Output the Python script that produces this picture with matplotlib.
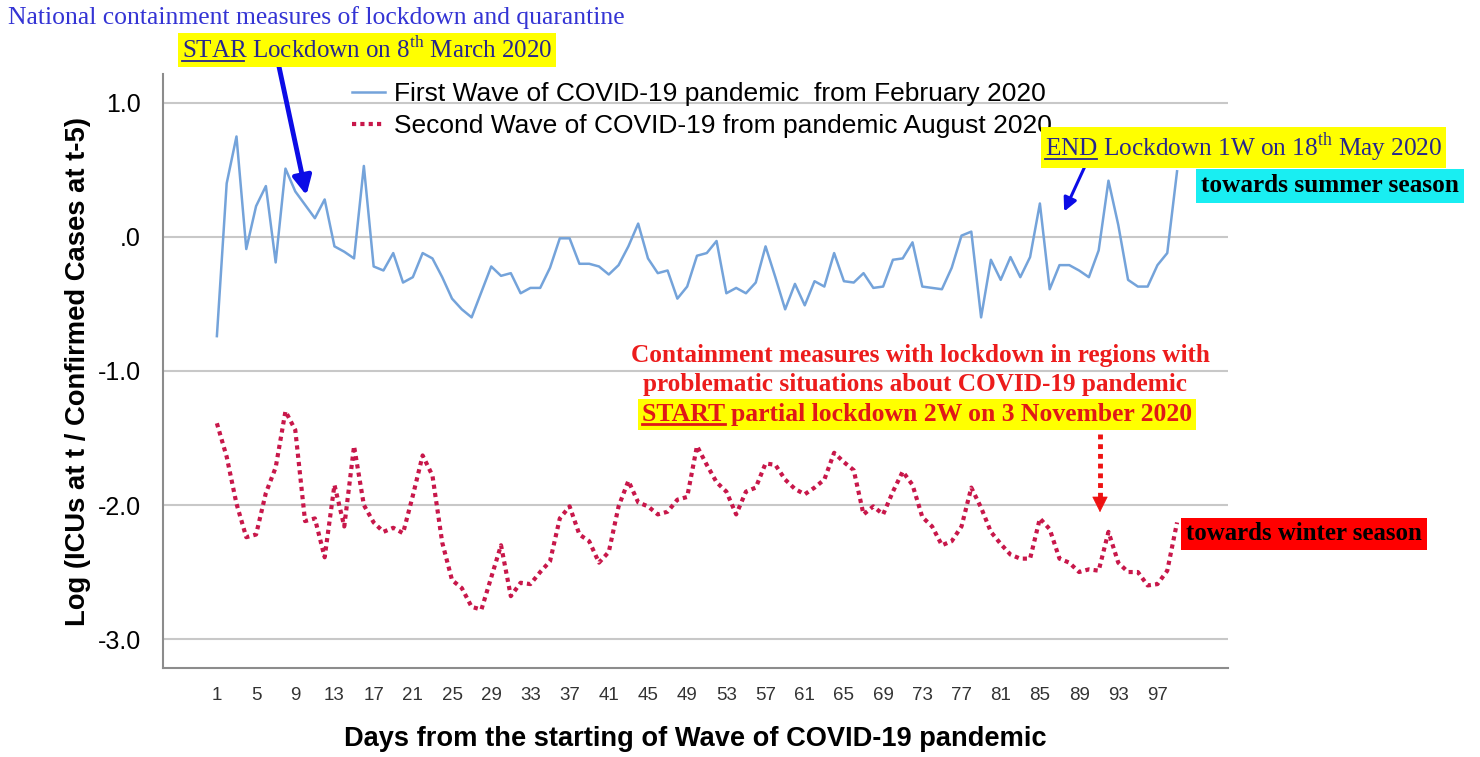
import matplotlib
matplotlib.use('Agg')
import matplotlib.pyplot as plt
from matplotlib.lines import Line2D
from matplotlib.patches import FancyArrowPatch

# values, one per day
first_wave = [-0.74, 0.40, 0.75, -0.09, 0.23, 0.38, -0.19, 0.51, 0.34, 0.24,
              0.14, 0.28, -0.07, -0.11, -0.16, 0.53, -0.22, -0.25, -0.12, -0.34,
              -0.30, -0.12, -0.16, -0.30, -0.46, -0.54, -0.60, -0.41, -0.22, -0.29,
              -0.27, -0.42, -0.38, -0.38, -0.23, -0.01, -0.01, -0.20, -0.20, -0.22,
              -0.28, -0.21, -0.07, 0.10, -0.16, -0.27, -0.25, -0.46, -0.37, -0.14,
              -0.12, -0.03, -0.42, -0.38, -0.42, -0.34, -0.07, -0.30, -0.54, -0.35,
              -0.51, -0.33, -0.37, -0.12, -0.33, -0.34, -0.27, -0.38, -0.37, -0.17,
              -0.16, -0.04, -0.37, -0.38, -0.39, -0.23, 0.01, 0.04, -0.60, -0.17,
              -0.32, -0.15, -0.30, -0.15, 0.25, -0.39, -0.21, -0.21, -0.25, -0.30,
              -0.10, 0.42, 0.09, -0.32, -0.37, -0.37, -0.21, -0.12, 0.49]

second_wave = [-1.39, -1.64, -1.99, -2.24, -2.22, -1.91, -1.72, -1.30, -1.44, -2.12,
               -2.10, -2.39, -1.85, -2.16, -1.56, -2.00, -2.13, -2.20, -2.17, -2.21,
               -1.93, -1.63, -1.78, -2.28, -2.56, -2.62, -2.76, -2.78, -2.54, -2.30,
               -2.68, -2.58, -2.59, -2.50, -2.42, -2.10, -2.01, -2.22, -2.27, -2.43,
               -2.35, -2.01, -1.82, -1.98, -2.01, -2.07, -2.05, -1.96, -1.94, -1.56,
               -1.70, -1.83, -1.90, -2.07, -1.90, -1.87, -1.69, -1.70, -1.81, -1.88,
               -1.92, -1.87, -1.81, -1.61, -1.68, -1.74, -2.07, -2.01, -2.07, -1.90,
               -1.75, -1.85, -2.09, -2.16, -2.30, -2.27, -2.16, -1.87, -2.02, -2.20,
               -2.29, -2.37, -2.40, -2.40, -2.10, -2.18, -2.40, -2.43, -2.50, -2.48,
               -2.49, -2.20, -2.43, -2.50, -2.50, -2.60, -2.59, -2.49, -2.13]

days = list(range(1, len(first_wave) + 1))
tick_days = list(range(1, 98, 4))
y_ticks = [1.0, 0.0, -1.0, -2.0, -3.0]
y_tick_labels = ['1.0', '.0', '-1.0', '-2.0', '-3.0']

first_label = 'First Wave of COVID-19 pandemic  from February 2020'
second_label = 'Second Wave of COVID-19 from pandemic August 2020'

W, H = 1480, 757
plt.rcParams['font.family'] = ['Liberation Sans', 'DejaVu Sans']
plt.rcParams['mathtext.fontset'] = 'custom'
plt.rcParams['mathtext.rm'] = 'Liberation Serif'


def fx(x):
    return x / W


def fy(y):
    return 1 - y / H


fig = plt.figure(figsize=(W / 100, H / 100), dpi=100)
ax = fig.add_axes([fx(163), fy(668), (1228 - 163) / W, (668 - 74) / H])

ax.plot(days, first_wave, color='#74a3da', lw=1.8, label=first_label)
ax.plot(days, second_wave, color='#c8174a', lw=3, linestyle=(0, (1, 1)),
        label=second_label)

ax.set_xlim(-4.5, 104.2)
ax.set_ylim(-3.216, 1.216)
ax.set_yticks(y_ticks, y_tick_labels)
ax.set_xticks(tick_days)
ax.tick_params(length=0)
ax.tick_params(axis='y', labelsize=18, pad=16)
ax.tick_params(axis='x', labelsize=13.5, pad=14, colors='#333333')
ax.grid(axis='y', color='#c8c8c8', lw=1.5)
ax.set_axisbelow(True)
for s in ['top', 'right']:
    ax.spines[s].set_visible(False)
for s in ['left', 'bottom']:
    ax.spines[s].set_color('#8c8c8c')
    ax.spines[s].set_linewidth(1.5)

ylab = ax.set_ylabel('Log (ICUs at t / Confirmed Cases at t-5)', fontsize=15,
                     weight='bold')
ax.yaxis.set_label_coords(-0.068, 0.5)
xlab = ax.set_xlabel('Days from the starting of Wave of COVID-19 pandemic', fontsize=16,
                     weight='bold')
ax.xaxis.set_label_coords(0.5, -0.098)

ax.legend(loc='upper left', bbox_to_anchor=(fx(352), fy(82)),
          bbox_transform=fig.transFigure, frameon=False, fontsize=19,
          handlelength=1.25, handletextpad=0.35, labelspacing=0.3,
          borderpad=0, borderaxespad=0)

serif = 'Liberation Serif'
fig.canvas.draw()
rend = fig.canvas.get_renderer()


def fit(t, size, vertical=False):
    # scale the font so the text spans the length seen in the reference
    bb = t.get_window_extent(rend)
    cur = bb.height if vertical else bb.width
    t.set_fontsize(t.get_fontsize() * size / cur)


def underline(t, word, color, lw=1.3):
    x, y = t.get_position()
    tmp = fig.text(x, y, word, fontproperties=t.get_fontproperties(),
                   ha='left', va='baseline')
    bb = tmp.get_window_extent(rend)
    tmp.remove()
    yy = y * H - 3
    fig.add_artist(Line2D([bb.x0 / W, bb.x1 / W], [yy / H, yy / H],
                          color=color, lw=lw, transform=fig.transFigure, zorder=10))


fit(ylab, 510, vertical=True)
fit(xlab, 700)

t1 = fig.text(fx(8), fy(18), 'National containment measures of lockdown and quarantine',
              family=serif, fontsize=16, color='#3434d4', va='center', ha='left')
fit(t1, 617)

yellow = dict(boxstyle='square,pad=0.15', fc='#ffff00', ec='none')
t2 = fig.text(fx(182), fy(58), 'STAR Lockdown on 8$^{\\mathrm{th}}$ March 2020',
              family=serif, fontsize=16, color='#26268e', va='baseline', ha='left',
              bbox=yellow)
fit(t2, 371)

t3 = fig.text(fx(1045), fy(156), 'END Lockdown 1W on 18$^{\\mathrm{th}}$ May 2020',
              family=serif, fontsize=16, color='#26268e', va='baseline', ha='left',
              bbox=yellow)
fit(t3, 398)

t4 = fig.text(fx(1201), fy(186), 'towards summer season', family=serif, weight='bold',
              fontsize=16, color='black', va='center', ha='left',
              bbox=dict(boxstyle='square,pad=0.2', fc='#19eef2', ec='none'))
fit(t4, 258)

red_lines = ['Containment measures with lockdown in regions with',
             'problematic situations about COVID-19 pandemic']
t5 = fig.text(fx(920), fy(355), red_lines[0], family=serif, weight='bold', fontsize=16,
              color='#ec1c1c', va='center', ha='center')
fit(t5, 580)
t6 = fig.text(fx(915), fy(385), red_lines[1], family=serif, weight='bold', fontsize=16,
              color='#ec1c1c', va='center', ha='center')
fit(t6, 545)
t7 = fig.text(fx(642), fy(421), 'START partial lockdown 2W on 3 November 2020',
              family=serif, weight='bold', fontsize=16, color='#e01818',
              va='baseline', ha='left', bbox=yellow)
fit(t7, 551)

t8 = fig.text(fx(1186), fy(534), 'towards winter season', family=serif, weight='bold',
              fontsize=16, color='black', va='center', ha='left',
              bbox=dict(boxstyle='square,pad=0.2', fc='#ff0000', ec='none'))
fit(t8, 237)

fig.canvas.draw()
rend = fig.canvas.get_renderer()
underline(t2, 'STAR', '#26268e')
underline(t3, 'END', '#26268e')
underline(t7, 'START', '#e01818', lw=2)

# arrows pointing at the lockdown days
fig.add_artist(FancyArrowPatch((fx(278), fy(62)), (fx(307), fy(198)),
                               transform=fig.transFigure, arrowstyle='-|>',
                               mutation_scale=28, lw=3.5, color='#0c0ce6'))
fig.add_artist(FancyArrowPatch((fx(1086), fy(164)), (fx(1063), fy(214)),
                               transform=fig.transFigure, arrowstyle='-|>',
                               mutation_scale=20, lw=2.2, color='#0c0ce6'))
fig.add_artist(Line2D([fx(1100), fx(1100)], [fy(434), fy(498)], color='#ee1111',
                      lw=3.5, linestyle=(0, (1, 1)), transform=fig.transFigure))
fig.add_artist(FancyArrowPatch((fx(1100), fy(496)), (fx(1100), fy(515)),
                               transform=fig.transFigure, arrowstyle='-|>',
                               mutation_scale=26, lw=0.5, color='#ee1111'))

fig.savefig('out.png', dpi=100)
